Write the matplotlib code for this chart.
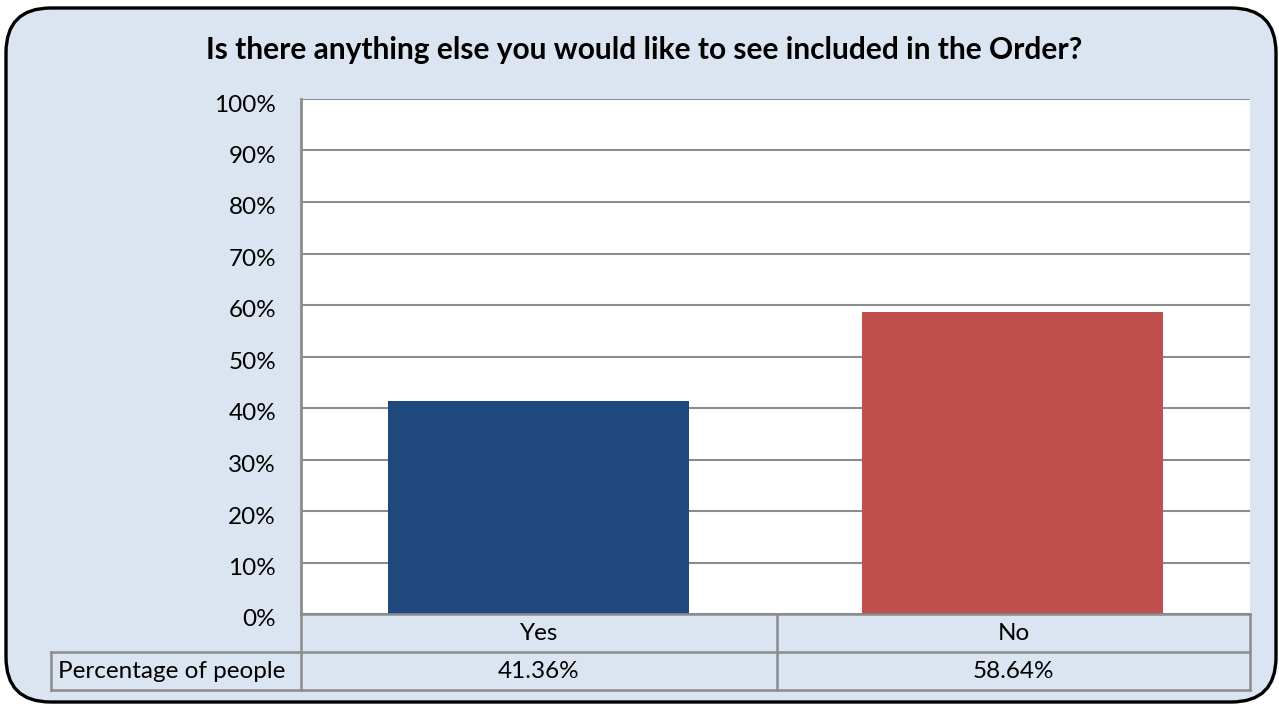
import matplotlib
matplotlib.use("Agg")
import matplotlib.pyplot as plt
import matplotlib.transforms as mtransforms
from matplotlib.patches import FancyBboxPatch
from matplotlib.lines import Line2D

categories = ["Yes", "No"]
values = [41.36, 58.64]
colors = ["#1f497d", "#c0504d"]
yticks = [0, 10, 20, 30, 40, 50, 60, 70, 80, 90, 100]
row_label = "Percentage of people"
title = "Is there anything else you would like to see included in the Order?"

W, H = 1279, 708
plt.rcParams['font.family'] = ['Lato', 'DejaVu Sans']
fig = plt.figure(figsize=(W / 100, H / 100), dpi=100)
fig.patch.set_facecolor("white")

def fx(x):
    return x / W

def fy(y):
    return 1 - y / H

bg = "#dbe5f1"
grid_c = "#8c8c8c"
FS = 17.5

# rounded background box
box = FancyBboxPatch((fx(6), fy(702)), fx(1270), 694 / H,
                     boxstyle="round,pad=0,rounding_size=0.035",
                     transform=fig.transFigure, facecolor=bg, edgecolor="black",
                     linewidth=2.4, mutation_aspect=W / H, zorder=-10)
fig.patches.append(box)

# plot area
L, R, T, B = 301, 1250, 99, 614
ax = fig.add_axes([fx(L), fy(B), fx(R - L), (B - T) / H], zorder=5)
ax.set_facecolor("white")
x = range(len(categories))
ax.bar(x, values, width=0.635, color=colors, zorder=3)
ax.set_xlim(-0.5, len(categories) - 0.5)
ax.set_ylim(0, 100)
ax.set_yticks(yticks)
ax.set_yticklabels([f"{t}%" for t in yticks], fontsize=FS)
ax.tick_params(axis='y', length=0, pad=18)
offset = mtransforms.ScaledTranslation(0, -4 / 100, fig.dpi_scale_trans)
for lab in ax.get_yticklabels():
    lab.set_transform(lab.get_transform() + offset)
ax.set_xticks([])
ax.yaxis.grid(True, color=grid_c, linewidth=1.5, zorder=1)
for s in ["top", "right", "bottom"]:
    ax.spines[s].set_visible(False)
ax.spines["left"].set_color(grid_c)
ax.spines["left"].set_linewidth(2)

# title
fig.text(fx(644), fy(50), title, ha="center", va="center", fontsize=21.5,
         fontweight="bold", zorder=6)

# data table
mid = 777
lw = 1.8

def hline(x0, x1, y):
    fig.add_artist(Line2D([fx(x0), fx(x1)], [fy(y), fy(y)], color=grid_c, lw=lw,
                          transform=fig.transFigure, zorder=6))

def vline(x, y0, y1):
    fig.add_artist(Line2D([fx(x), fx(x)], [fy(y0), fy(y1)], color=grid_c, lw=lw,
                          transform=fig.transFigure, zorder=6))

hline(L, R, 614)
hline(51, R, 652)
hline(51, R, 690)
vline(L, 614, 690)
vline(mid, 614, 690)
vline(R, 614, 690)
vline(51, 652, 690)

centers = [(L + mid) / 2, (mid + R) / 2]
for c, cat, v in zip(centers, categories, values):
    fig.text(fx(c), fy(633), cat, ha="center", va="center", fontsize=FS, zorder=6)
    fig.text(fx(c), fy(671), f"{v:.2f}%", ha="center", va="center", fontsize=FS, zorder=6)
fig.text(fx(58), fy(671), row_label, ha="left", va="center", fontsize=FS, zorder=6)

fig.savefig("out.png", dpi=100)
